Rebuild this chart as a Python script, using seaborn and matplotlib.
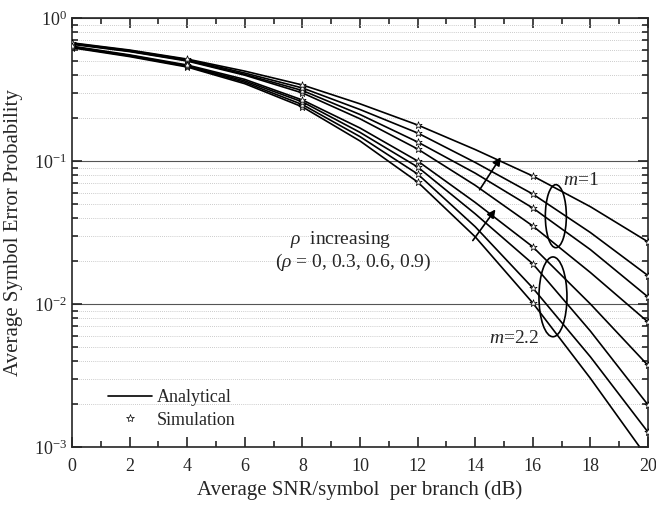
import pandas as pd
import matplotlib
matplotlib.use("Agg")
import matplotlib.pyplot as plt
import matplotlib.ticker as mticker
from matplotlib.patches import Ellipse
from matplotlib.lines import Line2D
import seaborn as sns

snr_db = [0, 2, 4, 6, 8, 10, 12, 14, 16, 18, 20]
sim_snr_db = [0, 4, 8, 12, 16, 20]
rho_values = [0, 0.3, 0.6, 0.9]

# m = 1 (upper group)
ser_m1_rho0 = [0.6546, 0.5821, 0.500, 0.3981, 0.2992, 0.1972, 0.1213, 0.0676, 0.0351, 0.0166, 0.00748]
ser_m1_rho3 = [0.661, 0.586, 0.505, 0.403, 0.311, 0.2113, 0.1358, 0.0822, 0.0469, 0.0240, 0.0112]
ser_m1_rho6 = [0.665, 0.592, 0.511, 0.412, 0.324, 0.229, 0.157, 0.0977, 0.0587, 0.0316, 0.0158]
ser_m1_rho9 = [0.670, 0.597, 0.516, 0.425, 0.340, 0.251, 0.1786, 0.1202, 0.0785, 0.0479, 0.0272]

# m = 2.2 (lower group)
ser_m22_rho0 = [0.619, 0.537, 0.454, 0.347, 0.239, 0.138, 0.0713, 0.0295, 0.01016, 0.00302, 0.00083]
ser_m22_rho3 = [0.625, 0.543, 0.459, 0.355, 0.248, 0.148, 0.0811, 0.0347, 0.01294, 0.00427, 0.00127]
ser_m22_rho6 = [0.630, 0.547, 0.463, 0.363, 0.259, 0.1585, 0.0908, 0.0427, 0.0191, 0.00646, 0.00197]
ser_m22_rho9 = [0.635, 0.552, 0.469, 0.372, 0.267, 0.170, 0.100, 0.0513, 0.0251, 0.0100, 0.00372]

m1_curves = [ser_m1_rho0, ser_m1_rho3, ser_m1_rho6, ser_m1_rho9]
m22_curves = [ser_m22_rho0, ser_m22_rho3, ser_m22_rho6, ser_m22_rho9]

rows = []
for m, curves in (("1", m1_curves), ("2.2", m22_curves)):
    for rho, vals in zip(rho_values, curves):
        for x, p in zip(snr_db, vals):
            rows.append({"snr": x, "p": p, "curve": f"m={m}, rho={rho}"})
df = pd.DataFrame(rows)
sim = df[df["snr"].isin(sim_snr_db)]

sns.set_style("ticks")
plt.rcParams["font.family"] = ["Liberation Serif", "DejaVu Serif"]
plt.rcParams["mathtext.fontset"] = "custom"
plt.rcParams["mathtext.rm"] = "Liberation Serif"
plt.rcParams["mathtext.it"] = "Liberation Serif:italic"

fig = plt.figure(figsize=(6.56, 5.08), dpi=100)
ax = fig.add_axes([0.1098, 0.1201, 0.878, 0.8445])

sns.lineplot(data=df, x="snr", y="p", hue="curve", palette=["black"] * 8,
             linewidth=1.2, legend=False, estimator=None, ax=ax)
sns.scatterplot(data=sim, x="snr", y="p", marker="*", s=30, color="white",
                edgecolor="black", linewidth=0.5, legend=False, ax=ax, zorder=3)

ax.set_yscale("log")
ax.set_xlim(0, 20)
ax.set_ylim(1e-3, 1)
ax.xaxis.set_major_locator(mticker.MultipleLocator(2))
ax.xaxis.set_minor_locator(mticker.MultipleLocator(1))
ax.yaxis.set_minor_locator(mticker.LogLocator(base=10, subs=range(2, 10)))
ax.yaxis.set_minor_formatter(mticker.NullFormatter())

ax.yaxis.grid(True, which="major", color="#555555", lw=0.8, ls="-")
ax.yaxis.grid(True, which="minor", color="#bbbbbb", lw=0.6, ls=(0, (1, 1.5)))
ax.set_axisbelow(True)

ax.tick_params(which="both", direction="in", top=True, right=True, width=1.2, labelsize=13)
ax.tick_params(which="major", length=7)
ax.tick_params(which="minor", length=4)
ax.tick_params(axis="x", pad=8)
for s in ax.spines.values():
    s.set_linewidth(1.2)

ax.set_xlabel("Average SNR/symbol  per branch (dB)", fontsize=15, labelpad=4)
ax.set_ylabel("Average Symbol Error Probability", fontsize=15, labelpad=8)

# annotations
ax.add_patch(Ellipse((0.840, 0.538), 0.0365, 0.147, transform=ax.transAxes,
                     fill=False, ec="black", lw=1.2))
ax.add_patch(Ellipse((0.835, 0.350), 0.0486, 0.186, transform=ax.transAxes,
                     fill=False, ec="black", lw=1.2))
ax.text(0.884, 0.622, r"$m$=1", transform=ax.transAxes, fontsize=14, ha="center", va="center")
ax.text(0.767, 0.254, r"$m$=2.2", transform=ax.transAxes, fontsize=14, ha="center", va="center")
ax.text(0.378, 0.483, r"$\rho$  increasing", transform=ax.transAxes, fontsize=14, ha="left", va="center")
ax.text(0.352, 0.431, r"($\rho$ = 0, 0.3, 0.6, 0.9)", transform=ax.transAxes, fontsize=14, ha="left", va="center")
ax.annotate("", xy=(0.747, 0.681), xytext=(0.705, 0.594), xycoords="axes fraction",
            arrowprops=dict(arrowstyle="-|>", color="black", lw=1.2, mutation_scale=12))
ax.annotate("", xy=(0.738, 0.559), xytext=(0.693, 0.476), xycoords="axes fraction",
            arrowprops=dict(arrowstyle="-|>", color="black", lw=1.2, mutation_scale=12))

handles = [Line2D([], [], color="black", lw=1.2),
           Line2D([], [], ls="none", marker="*", mfc="white", mec="black", ms=6, mew=0.5)]
ax.legend(handles, ["Analytical", "Simulation"], loc="lower left", bbox_to_anchor=(0.035, 0.005),
          frameon=False, fontsize=13, handlelength=2.4, handletextpad=0.3, labelspacing=0.3)

fig.savefig("out.png", dpi=100)
